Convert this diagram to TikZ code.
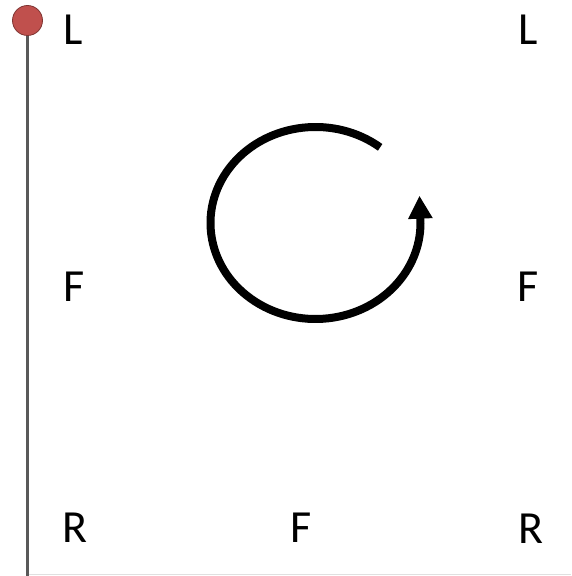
\documentclass[tikz,border=0pt]{standalone}
\usepackage{fontspec}
\setmainfont{Carlito}
\usetikzlibrary{arrows.meta}
\definecolor{pinred}{HTML}{C0504D}
\definecolor{pinedge}{HTML}{7F3432}
\tikzset{
  lbl/.style={inner sep=0pt, font=\fontsize{46}{50}\selectfont},
}
\begin{document}
\begin{tikzpicture}[x=1pt,y=1pt]
\useasboundingbox (0,0) rectangle (571,576);
% baseline / frame lines
\draw[black!12, line width=1pt] (27.5,1) -- (571,1);
\draw[black!65, line width=3pt] (27.5,0) -- (27.5,545);
\node[circle, fill=pinred, draw=pinedge, line width=0.8pt, minimum size=30pt, inner sep=0pt] (pin) at (27.5,555.5) {};
% labels
\node[lbl] (l1) at (73.5,546.5) {L};
\node[lbl] (l2) at (528,546.5) {L};
\node[lbl] (f1) at (74.5,289) {F};
\node[lbl] (f2) at (528,289) {F};
\node[lbl] (r1) at (75,48) {R};
\node[lbl] (f3) at (301,48) {F};
\node[lbl] (r2) at (530.5,47.5) {R};
% rotation arrow
\coordinate (c) at (315.5,353);
\draw[line width=8pt, -{Triangle[length=23pt,width=23pt]}]
  ([shift={(52:105 and 96)}]c) arc[start angle=52, end angle=362, x radius=105, y radius=96]
  -- ++(-1,24);
\end{tikzpicture}
\end{document}
